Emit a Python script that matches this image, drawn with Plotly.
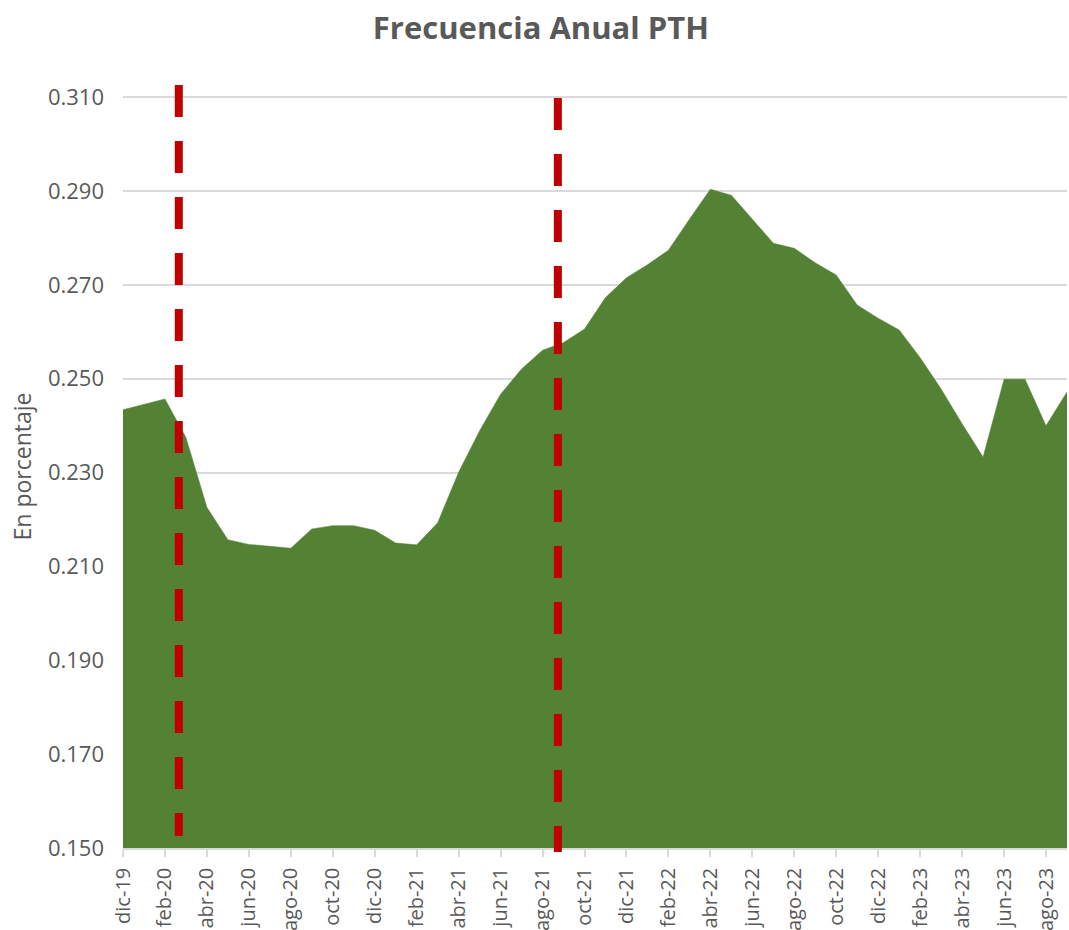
import plotly.graph_objects as go

months = ["dic-19", "ene-20", "feb-20", "mar-20", "abr-20", "may-20", "jun-20", "jul-20",
          "ago-20", "sep-20", "oct-20", "nov-20", "dic-20", "ene-21", "feb-21", "mar-21",
          "abr-21", "may-21", "jun-21", "jul-21", "ago-21", "sep-21", "oct-21", "nov-21",
          "dic-21", "ene-22", "feb-22", "mar-22", "abr-22", "may-22", "jun-22", "jul-22",
          "ago-22", "sep-22", "oct-22", "nov-22", "dic-22", "ene-23", "feb-23", "mar-23",
          "abr-23", "may-23", "jun-23", "jul-23", "ago-23", "sep-23"]

pth = [0.2434, 0.2446, 0.2457, 0.2375, 0.2226, 0.2157, 0.2147, 0.2143,
       0.2139, 0.2180, 0.2187, 0.2187, 0.2177, 0.2150, 0.2146, 0.2193,
       0.2301, 0.2389, 0.2467, 0.2521, 0.2561, 0.2577, 0.2606, 0.2673,
       0.2715, 0.2743, 0.2774, 0.2840, 0.2904, 0.2891, 0.2840, 0.2789,
       0.2778, 0.2747, 0.2721, 0.2657, 0.2629, 0.2604, 0.2545, 0.2478,
       0.2404, 0.2333, 0.2499, 0.2499, 0.2400, 0.2472]

tick_labels = months[::2]
y_ticks = [0.150, 0.170, 0.190, 0.210, 0.230, 0.250, 0.270, 0.290, 0.310]

# event markers (position in month index units)
event_x = [2.66, 20.73]

GRAY = "#595959"
GRID = "#d9d9d9"
FONT = "Open Sans"

fig = go.Figure()
fig.add_trace(go.Scatter(
    x=list(range(len(months))), y=pth, mode="lines",
    line=dict(color="#548235", width=0.5),
    fill="tozeroy", fillcolor="#548235",
    hoverinfo="x+y", showlegend=False,
))

shapes = [
    dict(type="line", xref="x", yref="paper", x0=event_x[0], x1=event_x[0],
         y0=1.0, y1=0.0157, line=dict(color="#c00000", width=8, dash="32px,24px")),
    dict(type="line", xref="x", yref="paper", x0=event_x[1], x1=event_x[1],
         y0=0.983, y1=-0.0052, line=dict(color="#c00000", width=8, dash="32px,24px")),
]

fig.update_layout(
    width=1069, height=930,
    margin=dict(l=123, r=2, t=85, b=82, autoexpand=False),
    paper_bgcolor="white", plot_bgcolor="white",
    title=dict(text="<b>Frecuencia Anual PTH</b>", x=0.506, xanchor="center",
               y=0.97, yanchor="middle",
               font=dict(family=FONT, size=31, color=GRAY)),
    font=dict(family=FONT, color=GRAY),
    shapes=shapes,
    xaxis=dict(
        range=[0, len(months) - 1], automargin=False,
        tickmode="array", tickvals=list(range(0, len(months), 2)), ticktext=tick_labels,
        tickangle=-90, tickfont=dict(family=FONT, size=20, color=GRAY),
        showgrid=False, zeroline=False,
        showline=True, linecolor=GRID, linewidth=1.5,
        ticks="outside", ticklen=7, tickcolor=GRID, tickwidth=1.5,
        ticklabelstandoff=3,
    ),
    yaxis=dict(
        range=[0.150, 0.3126], automargin=False,
        tickmode="array", tickvals=y_ticks, ticktext=[f"{v:.3f}" for v in y_ticks],
        tickfont=dict(family=FONT, size=22, color=GRAY),
        showgrid=True, gridcolor=GRID, gridwidth=1.5, zeroline=False,
        showline=False, ticks="", ticklabelstandoff=18,
        title=dict(text="En porcentaje", font=dict(family=FONT, size=23, color=GRAY),
                   standoff=9),
    ),
)

fig.write_html(
    "out.html",
    config={"displayModeBar": False},
    post_script="document.body.style.margin='0';document.body.style.overflow='hidden';",
)
